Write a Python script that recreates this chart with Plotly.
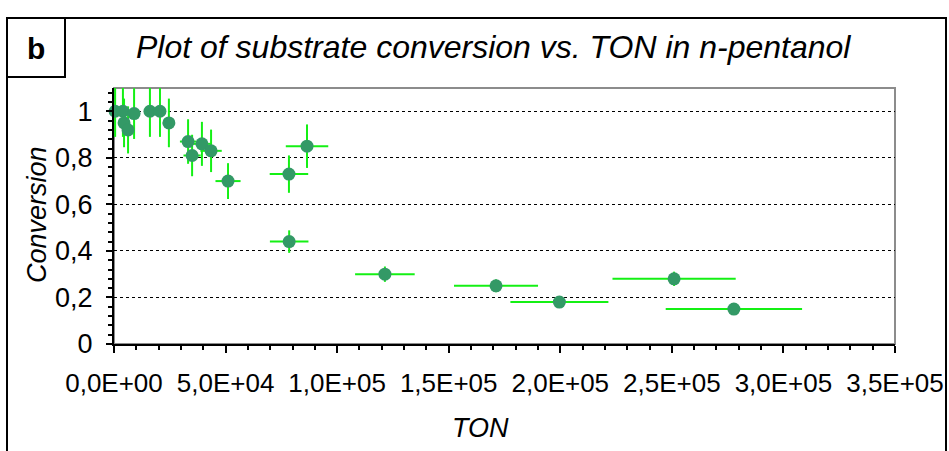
import plotly.graph_objects as go

# Turnover number and substrate conversion for each run
ton = [500, 4000, 4500, 6300, 9000, 16100, 20600, 24600, 33200, 35000, 39400,
       43500, 51100, 78400, 78500, 86500, 121400, 171200, 199600, 251000, 277800]
conversion = [1.00, 1.00, 0.95, 0.92, 0.99, 1.00, 1.00, 0.95, 0.87, 0.81, 0.86,
              0.83, 0.70, 0.73, 0.44, 0.85, 0.30, 0.25, 0.18, 0.28, 0.15]

# Relative uncertainty (percent) applied to both quantities
error_pct = 11

x_tick_values = [0, 50000, 100000, 150000, 200000, 250000, 300000, 350000]
x_tick_labels = ["0,0E+00", "5,0E+04", "1,0E+05", "1,5E+05",
                 "2,0E+05", "2,5E+05", "3,0E+05", "3,5E+05"]

FONT = "Liberation Sans, Arial, sans-serif"
W, H = 949, 451
L, R, T, B = 114, 54, 88, 107
PW, PH = W - L - R, H - T - B


def px_x(p):
    return (p - L) / PW


def px_y(p):
    return (H - B - p) / PH


fig = go.Figure()
fig.add_trace(go.Scatter(
    x=ton, y=conversion, mode="markers",
    marker=dict(size=13, color="#339966", line=dict(width=0)),
    error_x=dict(type="percent", value=error_pct, color="#14F014",
                 thickness=2, width=0),
    error_y=dict(type="percent", value=error_pct, color="#14F014",
                 thickness=2, width=0),
    cliponaxis=False, showlegend=False,
))

x_range = [0, 350000]
y_range = [0, 1.1]

fig.update_layout(
    width=W, height=H,
    margin=dict(l=L, r=R, t=T, b=B, autoexpand=False),
    paper_bgcolor="white", plot_bgcolor="white",
    separators=",.",
    font=dict(family=FONT, color="black"),
    xaxis=dict(
        range=x_range, tickvals=x_tick_values, ticktext=x_tick_labels,
        ticks="outside", ticklen=7, tickwidth=1.5, tickcolor="black",
        minor=dict(dtick=10000, ticks="outside", ticklen=4, tickwidth=1.5,
                   tickcolor="black"),
        showline=True, linecolor="black", linewidth=2,
        showgrid=False, zeroline=False, automargin=False,
        tickfont=dict(size=26), ticklabelstandoff=8,
    ),
    xaxis2=dict(
        range=x_range, overlaying="x", matches="x", anchor="y", side="bottom",
        tickvals=x_tick_values, showticklabels=False,
        ticks="inside", ticklen=7, tickwidth=1.5, tickcolor="black",
        minor=dict(dtick=10000, ticks="inside", ticklen=4, tickwidth=1.5,
                   tickcolor="black"),
        showline=False, showgrid=False, zeroline=False,
    ),
    yaxis=dict(
        range=y_range, dtick=0.2, tick0=0,
        ticks="outside", ticklen=6, tickwidth=1.5, tickcolor="black",
        minor=dict(dtick=0.04, ticks="outside", ticklen=4, tickwidth=1.5,
                   tickcolor="black"),
        showline=True, linecolor="black", linewidth=2,
        showgrid=True, gridcolor="black", gridwidth=1, griddash="dot",
        zeroline=False, automargin=False,
        tickfont=dict(size=27), ticklabelstandoff=8,
    ),
    yaxis2=dict(
        range=y_range, overlaying="y", matches="y", anchor="x", side="left",
        dtick=0.2, tick0=0, showticklabels=False,
        ticks="inside", ticklen=6, tickwidth=1.5, tickcolor="black",
        minor=dict(dtick=0.04, ticks="inside", ticklen=4, tickwidth=1.5,
                   tickcolor="black"),
        showline=False, showgrid=False, zeroline=False,
    ),
)

# Grey plot-area frame, outer chart border and the panel-letter box
fig.add_shape(type="rect", xref="x domain", yref="y domain",
              x0=0, x1=1, y0=0, y1=1, line=dict(color="#8C8C8C", width=2),
              layer="below")
fig.add_shape(type="rect", xref="paper", yref="paper",
              x0=px_x(7), x1=px_x(946), y0=px_y(470), y1=px_y(18),
              line=dict(color="black", width=2))
fig.add_shape(type="rect", xref="paper", yref="paper",
              x0=px_x(7), x1=px_x(65), y0=px_y(77), y1=px_y(18),
              line=dict(color="black", width=2))

# Panel letter, chart title and axis titles
fig.add_annotation(text="<b>b</b>", xref="paper", yref="paper",
                   x=px_x(36), y=px_y(48), xanchor="center", yanchor="middle",
                   showarrow=False, font=dict(size=30))
fig.add_annotation(text="<i>Plot of substrate conversion vs. TON in n-pentanol</i>",
                   xref="paper", yref="paper", x=px_x(493), y=px_y(47),
                   xanchor="center", yanchor="middle",
                   showarrow=False, font=dict(size=32))
fig.add_annotation(text="<i>TON</i>", xref="paper", yref="paper",
                   x=px_x(480), y=px_y(428), xanchor="center", yanchor="middle",
                   showarrow=False, font=dict(size=27))
fig.add_annotation(text="<i>Conversion</i>", xref="paper", yref="paper",
                   x=px_x(37), y=px_y(215), xanchor="center", yanchor="middle",
                   textangle=-90, showarrow=False, font=dict(size=27))

fig.write_html("out.html")
